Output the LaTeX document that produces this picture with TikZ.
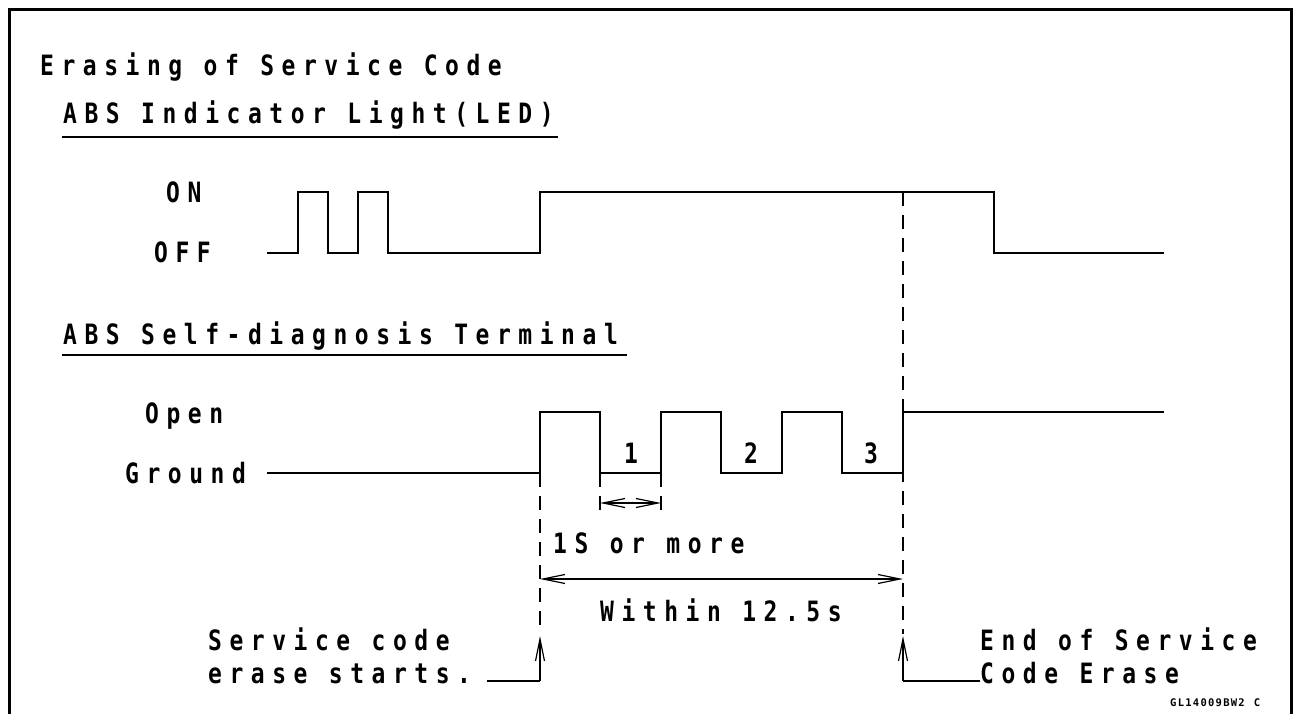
\documentclass[tikz,border=0pt]{standalone}
\usepackage{fontspec}
\usetikzlibrary{arrows.meta}
\newfontfamily\cadfont[LetterSpace=27,FakeStretch=0.82]{DejaVu Sans Mono Bold}
\newfontfamily\cadtiny[LetterSpace=12]{DejaVu Sans Mono Bold}
\begin{document}
\begin{tikzpicture}[x=1pt,y=-1pt,
  wave/.style={line width=1.5pt, line join=miter},
  guide/.style={line width=1.3pt, dash pattern=on 14pt off 9pt},
  dimarrow/.style={line width=1.2pt, {Straight Barb[length=22pt,width=9pt]}-{Straight Barb[length=22pt,width=9pt]}},
  callout/.style={line width=1.2pt, -{Straight Barb[length=22pt,width=9pt]}},
  rule/.style={line width=1.8pt},
  lbl/.style={font=\cadfont\fontsize{28}{33}\selectfont, inner sep=0pt, anchor=base west},
  tiny/.style={font=\cadtiny\fontsize{10.5}{12}\selectfont, inner sep=0pt, anchor=base west}]
\useasboundingbox (0,0) rectangle (1294,714);
% frame
\draw[line width=3pt] (9,716) -- (9,10) -- (1291,10) -- (1291,716);

% headings
\node[lbl] (title) at (40,76) {Erasing of Service Code};
\node[lbl] (ledhead) at (63,124) {ABS Indicator Light(LED)};
\draw[rule] (62,137) -- (558,137);
\node[lbl] (termhead) at (63,344) {ABS Self-diagnosis Terminal};
\draw[rule] (62,355) -- (627,355);

% level labels
\node[lbl] (on) at (166,203) {ON};
\node[lbl] (off) at (154,263) {OFF};
\node[lbl] (open) at (145,423) {Open};
\node[lbl] (ground) at (125,483) {Ground};

% LED waveform
\draw[wave] (267,253) -- (298,253) -- (298,192) -- (328,192) -- (328,253) -- (358,253)
  -- (358,192) -- (388,192) -- (388,253) -- (540,253) -- (540,192) -- (994,192)
  -- (994,253) -- (1164,253);

% terminal waveform
\draw[wave] (267,473) -- (540,473) -- (540,412) -- (600,412) -- (600,473) -- (661,473)
  -- (661,412) -- (721,412) -- (721,473) -- (782,473) -- (782,412) -- (842,412)
  -- (842,473) -- (903,473) -- (903,412) -- (1164,412);

\node[lbl] (n1) at (624,463) {1};
\node[lbl] (n2) at (744,463) {2};
\node[lbl] (n3) at (864,463) {3};

% guide lines
\coordinate (gs) at (540,473);
\coordinate (gsb) at (540,634);
\coordinate (ge) at (903,192);
\coordinate (geb) at (903,634);
\coordinate (g1) at (600,473);
\coordinate (g1b) at (600,518);
\coordinate (g2) at (661,473);
\coordinate (g2b) at (661,518);
\draw[guide] (gs) -- (gsb);
\draw[guide] (ge) -- (geb);
\draw[guide] (g1) -- (g1b);
\draw[guide] (g2) -- (g2b);

% dimension arrows
\coordinate (d1a) at (600,503);
\coordinate (d1b) at (661,503);
\draw[dimarrow] (d1a) -- (d1b);
\node[lbl] (onesec) at (553,553) {1S or more};
\coordinate (d2a) at (540,579);
\coordinate (d2b) at (903,579);
\draw[dimarrow] (d2a) -- (d2b);
\node[lbl] (within) at (600,621) {Within 12.5s};

% callouts
\node[lbl] (sc1) at (208,650) {Service code};
\node[lbl] (sc2) at (208,683) {erase starts.};
\coordinate (ls) at (487,681);
\coordinate (lc) at (540,681);
\coordinate (lt) at (540,636);
\draw[line width=1.2pt] (ls) -- (lc);
\draw[callout] (lc) -- (lt);

\node[lbl] (ec1) at (980,650) {End of Service};
\node[lbl] (ec2) at (980,683) {Code Erase};
\coordinate (rs) at (980,681);
\coordinate (rc) at (903,681);
\coordinate (rt) at (903,636);
\draw[line width=1.2pt] (rs) -- (rc);
\draw[callout] (rc) -- (rt);

\node[tiny] (code) at (1170,706) {GL14009BW2\hspace{9pt}C};
\end{tikzpicture}
\end{document}
